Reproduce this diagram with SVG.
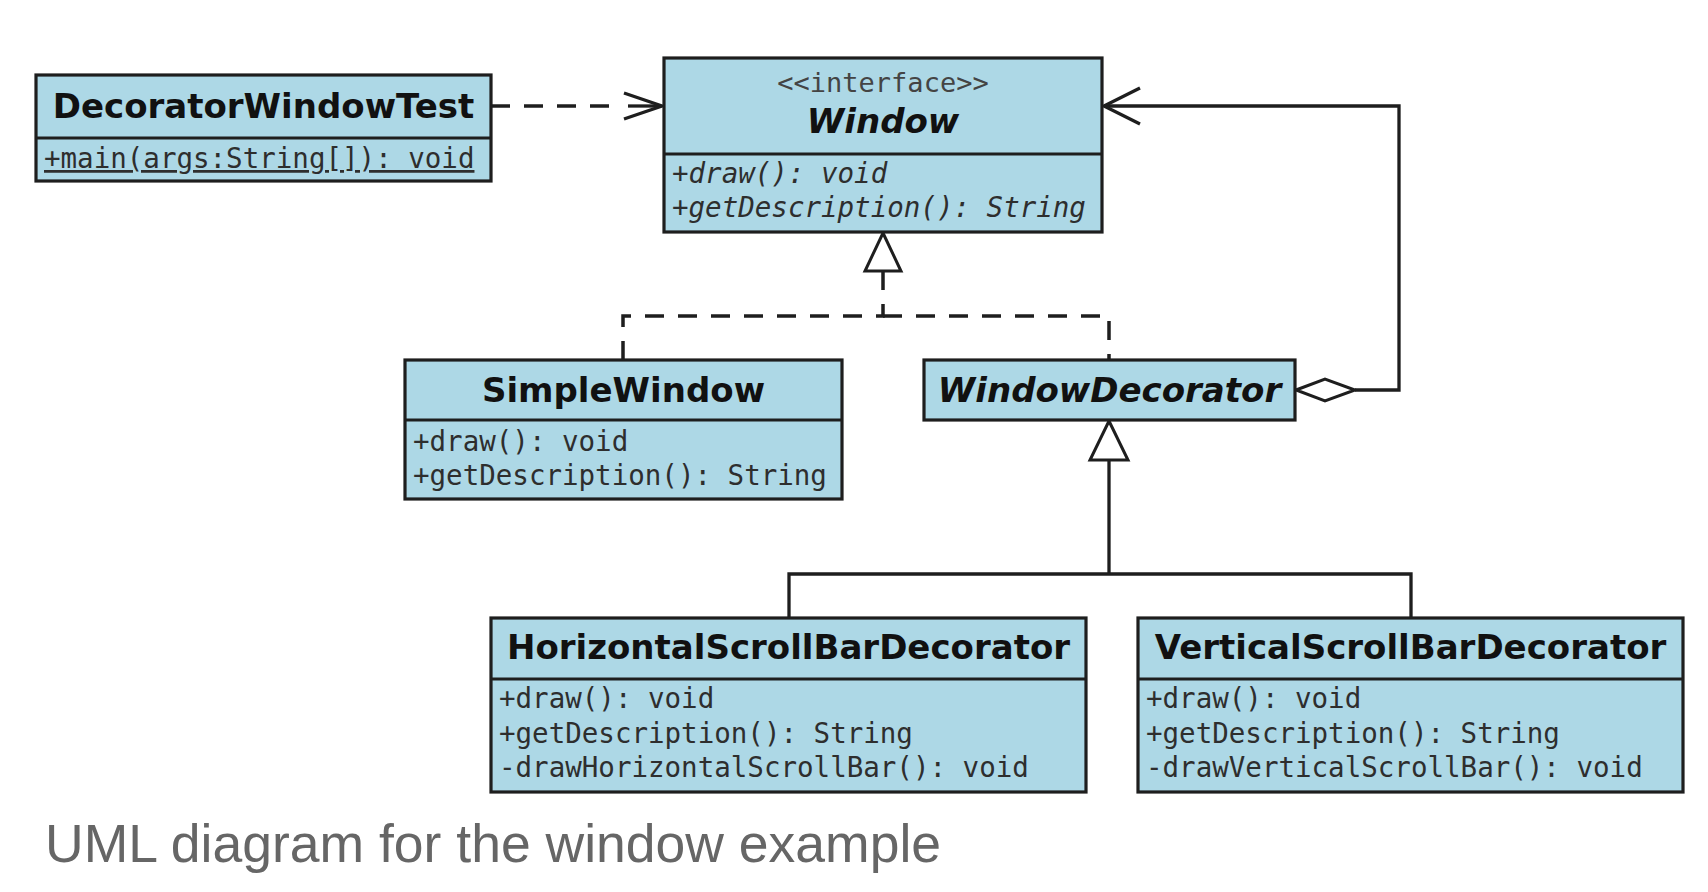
<svg xmlns="http://www.w3.org/2000/svg" width="1708" height="892" viewBox="0 0 1708 892">
<style>
.box{fill:#add8e6;stroke:#1e1e1e;stroke-width:3.2}
.sep{stroke:#1e1e1e;stroke-width:3.2}
.title{font-family:"DejaVu Sans",sans-serif;font-weight:bold;font-size:34px;fill:#111;text-anchor:middle}
.it{font-style:italic}
.mem{font-family:"DejaVu Sans Mono",monospace;font-size:27.5px;fill:#2e2e2e}
.stereo{font-family:"DejaVu Sans Mono",monospace;font-size:27px;fill:#444;text-anchor:middle}
.ln{fill:none;stroke:#1e1e1e;stroke-width:3.3}
.dash{fill:none;stroke:#1e1e1e;stroke-width:3.5;stroke-dasharray:19 14}
.head{fill:#fff;stroke:#1e1e1e;stroke-width:3;stroke-linejoin:miter}
.cap{font-family:"Liberation Sans",Arial,sans-serif;font-size:53.5px;fill:#666}
</style>
<rect width="1708" height="892" fill="#fff"/>

<g id="connectors">
  <!-- dependency DecoratorWindowTest -> Window -->
  <path class="dash" d="M491,106 H618"/>
  <path class="ln" d="M628,106 H660"/>
  <path class="ln" stroke-width="3.5" d="M624,93 L662,106 L624,119"/>
  <!-- realization to Window -->
  <path class="dash" d="M883,271 V316 H623 V360"/>
  <path class="dash" d="M883,316 H1109 V360"/>
  <path class="head" d="M883,233 L901,271 L865,271 Z"/>
  <!-- generalization to WindowDecorator -->
  <path class="ln" d="M1109,460 V574 M789,618 V574 H1411 V618"/>
  <path class="head" d="M1109,421 L1128,460 L1090,460 Z"/>
  <!-- aggregation WindowDecorator -> Window -->
  <path class="ln" d="M1355,390 H1399 V106 H1104"/>
  <path class="ln" d="M1140,88 L1104,106 L1140,124"/>
  <path class="head" d="M1296,390 L1325,379 L1355,390 L1325,401 Z"/>
</g>

<g id="DecoratorWindowTest">
  <rect class="box" x="36" y="75" width="455" height="106"/>
  <line class="sep" x1="36" y1="138" x2="491" y2="138"/>
  <text class="title" x="263.5" y="118">DecoratorWindowTest</text>
  <text class="mem" x="44" y="168" text-decoration="underline">+main(args:String[]): void</text>
</g>

<g id="Window">
  <rect class="box" x="664" y="58" width="438" height="174"/>
  <line class="sep" x1="664" y1="154" x2="1102" y2="154"/>
  <text class="stereo" x="883" y="92">&lt;&lt;interface&gt;&gt;</text>
  <text class="title it" x="883" y="133">Window</text>
  <text class="mem it" x="672" y="183">+draw(): void</text>
  <text class="mem it" x="672" y="217">+getDescription(): String</text>
</g>

<g id="SimpleWindow">
  <rect class="box" x="405" y="360" width="437" height="139"/>
  <line class="sep" x1="405" y1="420" x2="842" y2="420"/>
  <text class="title" x="623.5" y="402">SimpleWindow</text>
  <text class="mem" x="413" y="451">+draw(): void</text>
  <text class="mem" x="413" y="485">+getDescription(): String</text>
</g>

<g id="WindowDecorator">
  <rect class="box" x="924" y="360" width="371" height="60"/>
  <text class="title it" x="1109.5" y="402">WindowDecorator</text>
</g>

<g id="HorizontalScrollBarDecorator">
  <rect class="box" x="491" y="618" width="595" height="174"/>
  <line class="sep" x1="491" y1="679" x2="1086" y2="679"/>
  <text class="title" x="788.5" y="659">HorizontalScrollBarDecorator</text>
  <text class="mem" x="499" y="708">+draw(): void</text>
  <text class="mem" x="499" y="743">+getDescription(): String</text>
  <text class="mem" x="499" y="777">-drawHorizontalScrollBar(): void</text>
</g>

<g id="VerticalScrollBarDecorator">
  <rect class="box" x="1138" y="618" width="545" height="174"/>
  <line class="sep" x1="1138" y1="679" x2="1683" y2="679"/>
  <text class="title" x="1410.5" y="659">VerticalScrollBarDecorator</text>
  <text class="mem" x="1146" y="708">+draw(): void</text>
  <text class="mem" x="1146" y="743">+getDescription(): String</text>
  <text class="mem" x="1146" y="777">-drawVerticalScrollBar(): void</text>
</g>

<text class="cap" x="45" y="862">UML diagram for the window example</text>
</svg>
